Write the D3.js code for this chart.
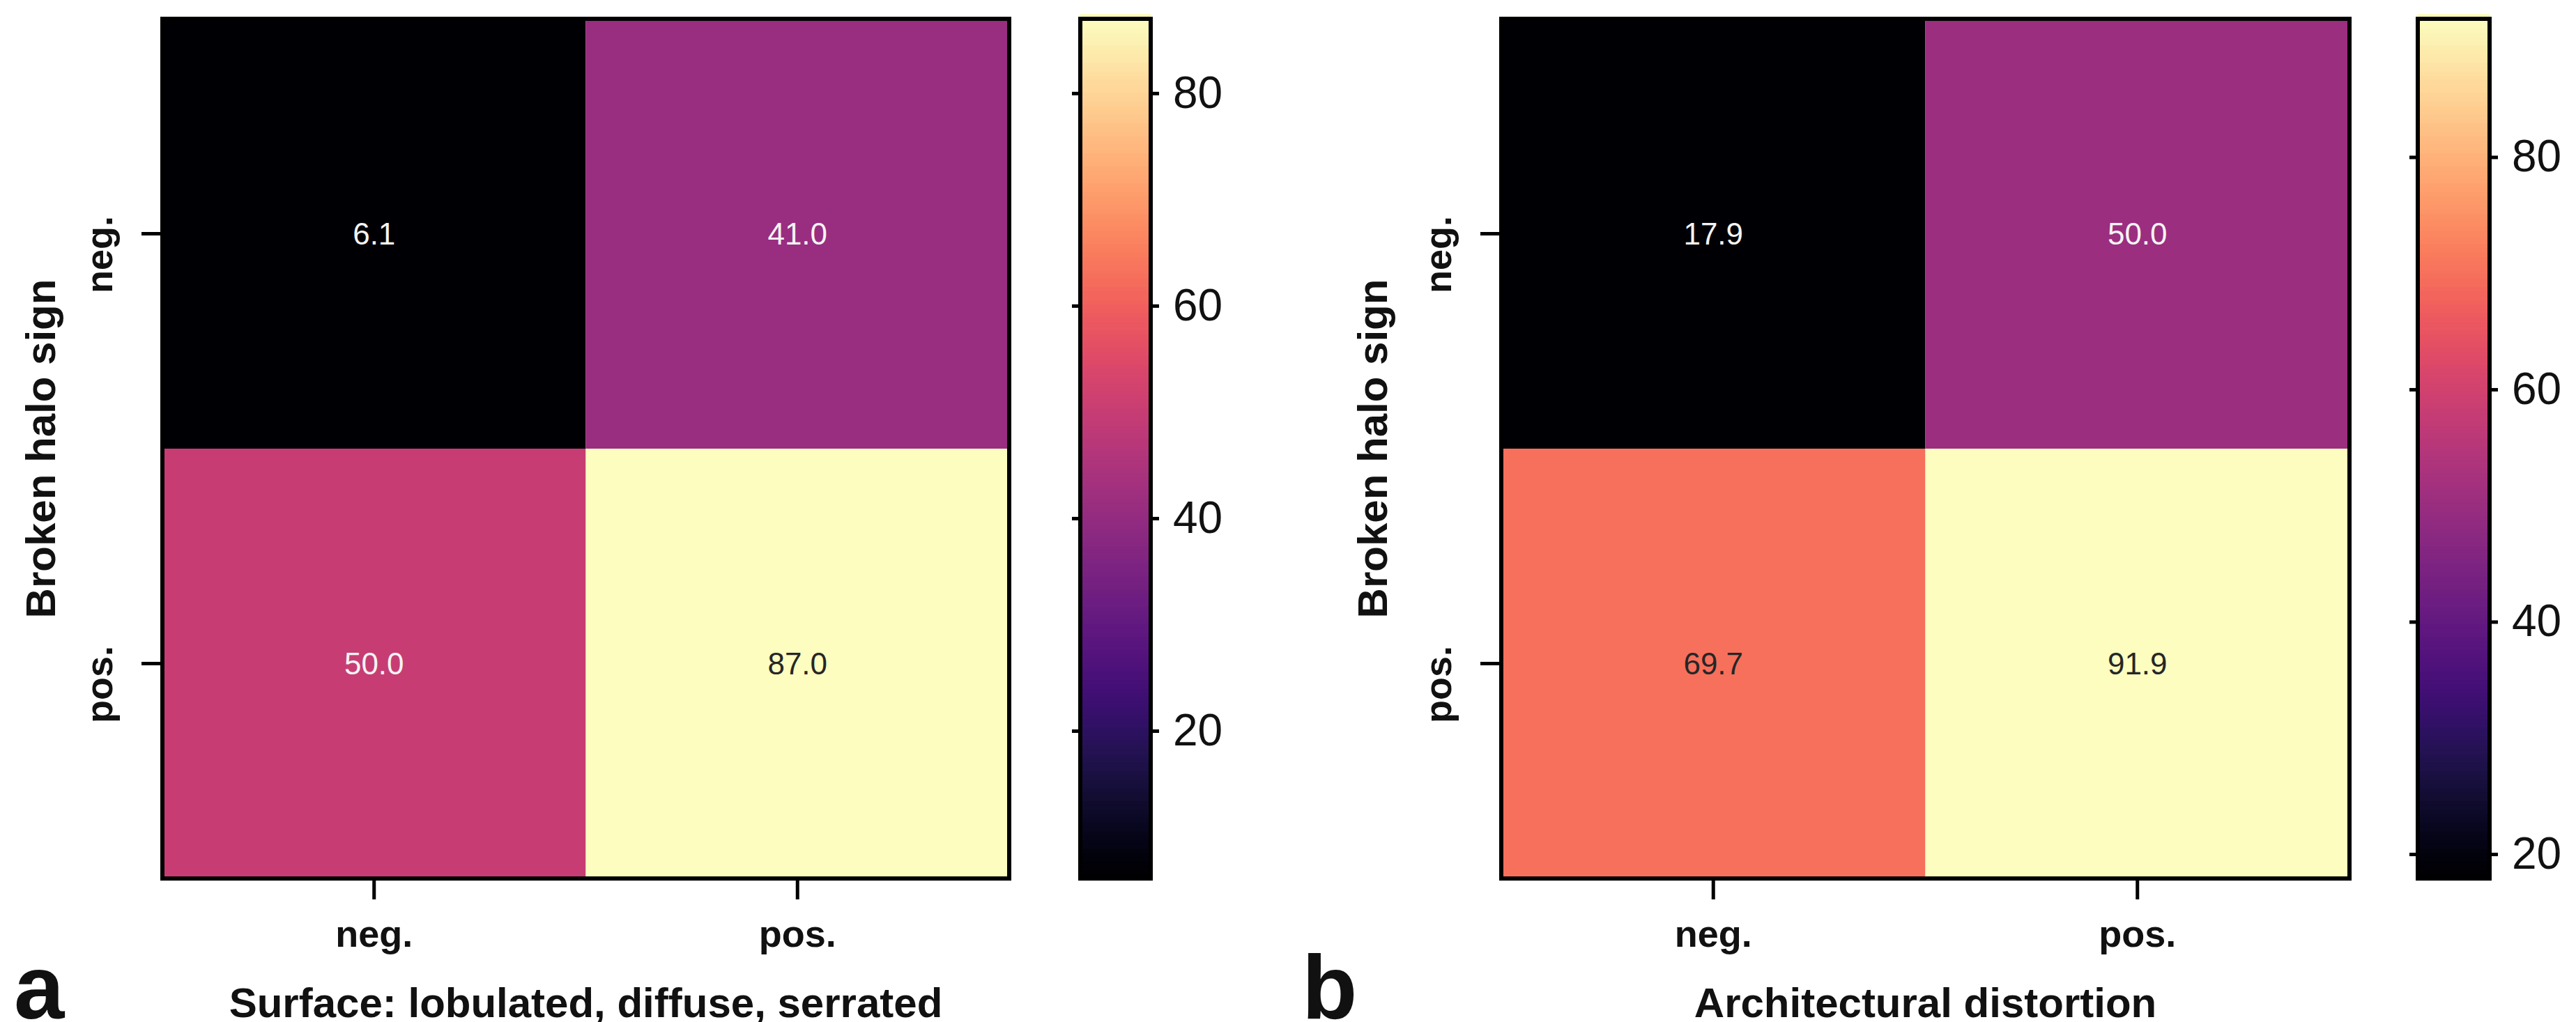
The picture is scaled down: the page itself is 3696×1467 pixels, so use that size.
<!DOCTYPE html>
<html><head><meta charset="utf-8">
<script src="https://cdn.jsdelivr.net/npm/d3@7"></script>
<style>body{margin:0;background:#fff}</style>
</head><body>
<svg id="chart" width="3696" height="1467"></svg>
<script>
// categories
const rows = ["neg.", "pos."]
const cols = ["neg.", "pos."]
// values per panel, row-major (row = Broken halo sign)
const valuesA = [6.1, 41.0, 50.0, 87.0]
const valuesB = [17.9, 50.0, 69.7, 91.9]
const ticksA = [20, 40, 60, 80]
const ticksB = [20, 40, 60, 80]
const titlesX = ["Surface: lobulated, diffuse, serrated", "Architectural distortion"]
const titleY = "Broken halo sign"
const letters = ["a", "b"]

const svg = d3.select("#chart").attr("font-family", "'Liberation Sans', Arial, sans-serif")

const panels = [
  {vals: valuesA, ticks: ticksA, x0: 233, x1: 1448, cb: 1550, cbw: 101, titleX: titlesX[0], letter: letters[0], lx: 20, ytx: 59},
  {vals: valuesB, ticks: ticksB, x0: 2154, x1: 3371, cb: 3469, cbw: 103, titleX: titlesX[1], letter: letters[1], lx: 1868, ytx: 1970}
]
const yTop = 27, yBottom = 1261

panels.forEach(p => {
  const g = svg.append("g")
  const x = d3.scaleBand().domain(cols).range([p.x0, p.x1])
  const y = d3.scaleBand().domain(rows).range([yTop, yBottom])
  const ext = d3.extent(p.vals)
  const color = d3.scaleSequential(d3.interpolateMagma).domain(ext)
  const cells = []
  rows.forEach((r, i) => cols.forEach((c, j) => cells.push({r, c, v: p.vals[i * cols.length + j]})))

  g.selectAll("rect.cell").data(cells).join("rect")
    .attr("x", d => x(d.c)).attr("y", d => y(d.r))
    .attr("width", x.bandwidth()).attr("height", y.bandwidth())
    .attr("fill", d => color(d.v))
  g.selectAll("text.val").data(cells).join("text")
    .attr("x", d => x(d.c) + x.bandwidth() / 2)
    .attr("y", d => y(d.r) + y.bandwidth() / 2)
    .attr("dy", "0.35em").attr("text-anchor", "middle")
    .attr("font-size", 44)
    .attr("fill", d => (d.v - ext[0]) / (ext[1] - ext[0]) > 0.6 ? "#262626" : "#f4f4f4")
    .text(d => d.v.toFixed(1))
  g.append("rect").attr("x", p.x0).attr("y", yTop).attr("width", p.x1 - p.x0).attr("height", yBottom - yTop)
    .attr("fill", "none").attr("stroke", "#000").attr("stroke-width", 6)

  // axes
  const xa = g.append("g").attr("transform", `translate(0,${yBottom})`)
    .call(d3.axisBottom(x).tickSize(30).tickSizeOuter(0).tickPadding(30))
  xa.select(".domain").remove()
  xa.selectAll("line").attr("stroke-width", 5)
  xa.selectAll("text").attr("font-size", 54).attr("font-weight", "bold").attr("fill", "#111")
  const ya = g.append("g").attr("transform", `translate(${p.x0},0)`)
    .call(d3.axisLeft(y).tickSize(30).tickSizeOuter(0).tickPadding(0))
  ya.select(".domain").remove()
  ya.selectAll("line").attr("stroke-width", 5)
  ya.selectAll("text").attr("font-size", 54).attr("font-weight", "bold").attr("fill", "#111")
    .attr("text-anchor", "middle").attr("dy", 0)
    .attr("transform", "translate(-72,0) rotate(-90)")

  g.append("text").attr("x", (p.x0 + p.x1) / 2).attr("y", 1460)
    .attr("text-anchor", "middle").attr("font-size", 60).attr("font-weight", "bold").attr("fill", "#111")
    .text(p.titleX)
  g.append("text").attr("transform", `translate(${p.ytx + 20},${(yTop + yBottom) / 2}) rotate(-90)`)
    .attr("text-anchor", "middle").attr("font-size", 60).attr("font-weight", "bold").attr("fill", "#111")
    .text(titleY)
  g.append("text").attr("x", p.lx).attr("y", 1462).attr("font-size", 130).attr("font-weight", "bold")
    .attr("fill", "#111").text(p.letter)

  // colorbar
  const cy = d3.scaleLinear().domain(ext).range([yBottom, yTop])
  const n = 200
  const steps = d3.range(n).map(i => ext[0] + (ext[1] - ext[0]) * i / (n - 1))
  g.selectAll("rect.cb").data(steps).join("rect")
    .attr("x", p.cb).attr("width", p.cbw)
    .attr("y", d => cy(d) - (yBottom - yTop) / n - 1).attr("height", (yBottom - yTop) / n + 2)
    .attr("fill", d => color(d))
  g.append("rect").attr("x", p.cb).attr("y", yTop).attr("width", p.cbw).attr("height", yBottom - yTop)
    .attr("fill", "none").attr("stroke", "#000").attr("stroke-width", 6)
  const ca = g.append("g").attr("transform", `translate(${p.cb + p.cbw},0)`)
    .call(d3.axisRight(cy).tickValues(p.ticks).tickSize(12).tickPadding(20))
  ca.select(".domain").remove()
  ca.selectAll("line").attr("stroke-width", 5)
  ca.selectAll("text").attr("font-size", 64).attr("fill", "#111")
  g.append("g").attr("transform", `translate(${p.cb},0)`)
    .call(d3.axisLeft(cy).tickValues(p.ticks).tickSize(12).tickFormat(""))
    .call(s => s.select(".domain").remove())
    .selectAll("line").attr("stroke-width", 5)
})
</script>
</body></html>
